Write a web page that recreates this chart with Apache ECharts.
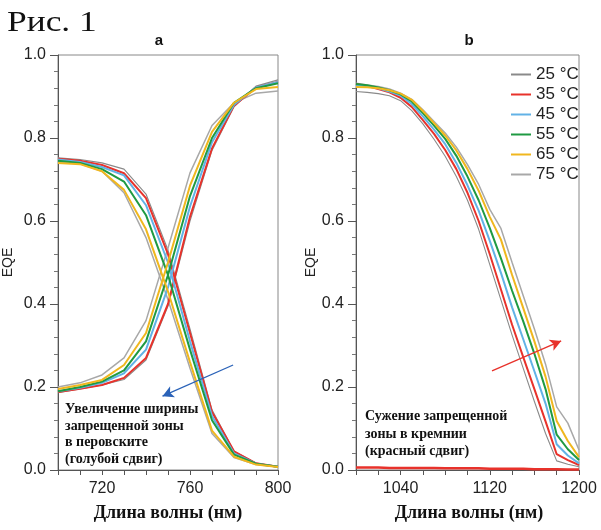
<!DOCTYPE html>
<html>
<head>
<meta charset="utf-8">
<script src="https://cdn.jsdelivr.net/npm/echarts@6/dist/echarts.min.js"></script>
<style>
html,body{margin:0;padding:0;background:#fff;}
#c{width:601px;height:530px;}
</style>
</head>
<body>
<div id="c"></div>
<script>
// ---- data ----
const temps = ['25 °C', '35 °C', '45 °C', '55 °C', '65 °C', '75 °C'];
const wlA = [700, 710, 720, 730, 740, 750, 760, 770, 780, 790, 800];
const fall25 = [0.752, 0.748, 0.740, 0.725, 0.665, 0.530, 0.340, 0.145, 0.045, 0.017, 0.008];
const fall35 = [0.750, 0.745, 0.735, 0.715, 0.655, 0.520, 0.330, 0.140, 0.045, 0.016, 0.008];
const fall45 = [0.748, 0.742, 0.730, 0.710, 0.638, 0.500, 0.310, 0.130, 0.040, 0.015, 0.008];
const fall55 = [0.745, 0.740, 0.725, 0.695, 0.614, 0.470, 0.290, 0.120, 0.037, 0.015, 0.008];
const fall65 = [0.740, 0.737, 0.720, 0.675, 0.580, 0.430, 0.260, 0.095, 0.032, 0.013, 0.007];
const fall75 = [0.742, 0.738, 0.720, 0.668, 0.560, 0.410, 0.245, 0.088, 0.030, 0.013, 0.007];
const rise25 = [0.186, 0.195, 0.205, 0.218, 0.265, 0.395, 0.600, 0.770, 0.875, 0.925, 0.940];
const rise35 = [0.188, 0.196, 0.205, 0.222, 0.270, 0.400, 0.610, 0.775, 0.878, 0.922, 0.935];
const rise45 = [0.190, 0.198, 0.210, 0.233, 0.290, 0.440, 0.635, 0.790, 0.880, 0.922, 0.935];
const rise55 = [0.190, 0.200, 0.213, 0.240, 0.310, 0.470, 0.660, 0.800, 0.885, 0.920, 0.932];
const rise65 = [0.195, 0.205, 0.217, 0.253, 0.330, 0.500, 0.685, 0.815, 0.885, 0.918, 0.923];
const rise75 = [0.200, 0.210, 0.229, 0.270, 0.360, 0.535, 0.716, 0.830, 0.885, 0.908, 0.913];

const wlB = [1000, 1010, 1020, 1030, 1040, 1050, 1060, 1070, 1080, 1090, 1100, 1110, 1120, 1130, 1140, 1150, 1160, 1170, 1180, 1190, 1200];
const si25 = [0.912, 0.910, 0.907, 0.902, 0.890, 0.866, 0.834, 0.797, 0.756, 0.707, 0.650, 0.580, 0.495, 0.410, 0.325, 0.245, 0.165, 0.088, 0.022, 0.014, 0.008];
const si35 = [0.930, 0.925, 0.918, 0.910, 0.897, 0.875, 0.843, 0.810, 0.771, 0.725, 0.668, 0.600, 0.520, 0.435, 0.350, 0.272, 0.195, 0.117, 0.038, 0.024, 0.012];
const si45 = [0.928, 0.925, 0.920, 0.912, 0.902, 0.882, 0.852, 0.820, 0.785, 0.740, 0.686, 0.625, 0.552, 0.475, 0.392, 0.315, 0.238, 0.160, 0.062, 0.035, 0.016];
const si55 = [0.930, 0.927, 0.922, 0.915, 0.905, 0.888, 0.860, 0.830, 0.798, 0.757, 0.707, 0.650, 0.583, 0.510, 0.432, 0.358, 0.280, 0.195, 0.085, 0.050, 0.024];
const si65 = [0.923, 0.922, 0.920, 0.915, 0.907, 0.892, 0.865, 0.836, 0.806, 0.770, 0.725, 0.673, 0.610, 0.555, 0.470, 0.390, 0.310, 0.225, 0.118, 0.070, 0.031];
const si75 = [0.932, 0.928, 0.924, 0.918, 0.908, 0.893, 0.868, 0.840, 0.812, 0.778, 0.736, 0.688, 0.628, 0.582, 0.500, 0.420, 0.340, 0.255, 0.152, 0.113, 0.048];
const tailB = [0.006, 0.006, 0.006, 0.005, 0.005, 0.005, 0.005, 0.005, 0.004, 0.004, 0.004, 0.004, 0.003, 0.003, 0.003, 0.003, 0.002, 0.002, 0.002, 0.001, 0.001];

const yTicks = [0, 0.2, 0.4, 0.6, 0.8, 1.0];
const xLabelsA = [720, 760, 800];
const xLabelsB = [1040, 1120, 1200];

// ---- styles ----
const colors = ['#8a8a8a', '#e8322b', '#62b2e6', '#1f9a42', '#f0b71e', '#a8a8a8'];
const widths = [1.1, 2, 2, 2, 2, 1.5];

const fallA = [fall25, fall35, fall45, fall55, fall65, fall75];
const riseA = [rise25, rise35, rise45, rise55, rise65, rise75];
const siB = [si25, si35, si45, si55, si65, si75];

function zip(xs, ys) { return xs.map((x, i) => [x, ys[i]]); }

const sans = 'Liberation Sans, Arial, sans-serif';
const serif = 'Liberation Serif, Times New Roman, serif';

function yAxis(gi, gap) {
  return {
    type: 'value', gridIndex: gi, min: 0, max: 1, interval: 0.2,
    name: 'EQE', nameLocation: 'middle', nameGap: gap,
    nameTextStyle: { fontFamily: sans, fontSize: 14, color: '#222' },
    axisLine: { show: true, lineStyle: { color: '#555', width: 1 } },
    axisTick: { show: true, inside: false, length: 8, lineStyle: { color: '#555' } },
    minorTick: { show: true, splitNumber: 5, length: 4, lineStyle: { color: '#777' } },
    axisLabel: { fontFamily: sans, fontSize: 16, color: '#222', margin: 12,
      formatter: v => yTicks.some(t => Math.abs(t - v) < 1e-6) ? v.toFixed(1) : '' },
    splitLine: { show: false }
  };
}
function xAxis(gi, min, max, interval, labels) {
  return {
    type: 'value', gridIndex: gi, min: min, max: max, interval: interval,
    axisLine: { show: true, onZero: false, lineStyle: { color: '#555', width: 1 } },
    axisTick: { show: true, inside: false, length: 5, lineStyle: { color: '#555' } },
    axisLabel: { fontFamily: sans, fontSize: 16, color: '#222', margin: 11,
      formatter: v => labels.indexOf(Math.round(v)) >= 0 ? String(Math.round(v)) : '' },
    splitLine: { show: false }
  };
}

const series = [];
for (let i = 0; i < 6; i++) {
  const base = { type: 'line', name: temps[i], symbol: 'none', showSymbol: false, smooth: false,
    lineStyle: { color: colors[i], width: widths[i] }, itemStyle: { color: colors[i] },
    emphasis: { disabled: true }, z: 2 + (i === 0 || i === 5 ? 0 : 1) };
  series.push(Object.assign({}, base, { xAxisIndex: 0, yAxisIndex: 0, data: zip(wlA, fallA[i]) }));
  series.push(Object.assign({}, base, { xAxisIndex: 0, yAxisIndex: 0, data: zip(wlA, riseA[i]) }));
  series.push(Object.assign({}, base, { xAxisIndex: 1, yAxisIndex: 1, data: zip(wlB, siB[i]) }));
}
series.push({ type: 'line', name: 'tail', symbol: 'none', xAxisIndex: 1, yAxisIndex: 1,
  data: zip(wlB, tailB), lineStyle: { color: '#e8322b', width: 2.5 }, itemStyle: { color: '#e8322b' }, z: 5 });

// annotation arrows (data coordinates)
series.push({ type: 'line', name: 'arrowA', xAxisIndex: 0, yAxisIndex: 0, data: [], symbol: 'none',
  markLine: { silent: true, symbol: ['none', 'arrow'], symbolSize: [9, 11], animation: false,
    lineStyle: { color: '#2a62b8', width: 1.3, type: 'solid' }, label: { show: false },
    data: [[{ coord: [779.6, 0.253] }, { coord: [747.5, 0.178] }]] } });
series.push({ type: 'line', name: 'arrowB', xAxisIndex: 1, yAxisIndex: 1, data: [], symbol: 'none',
  markLine: { silent: true, symbol: ['none', 'arrow'], symbolSize: [9, 11], animation: false,
    lineStyle: { color: '#e8322b', width: 1.3, type: 'solid' }, label: { show: false },
    data: [[{ coord: [1122, 0.239] }, { coord: [1184, 0.311] }]] } });

const chart = echarts.init(document.getElementById('c'), null, { renderer: 'canvas' });
chart.setOption({
  animation: false,
  backgroundColor: '#fff',
  grid: [
    { left: 57, top: 55, width: 221, height: 415, show: true, borderColor: '#888', borderWidth: 1, backgroundColor: 'transparent' },
    { left: 356, top: 55, width: 223, height: 415, show: true, borderColor: '#888', borderWidth: 1, backgroundColor: 'transparent' }
  ],
  xAxis: [xAxis(0, 700, 800, 10, xLabelsA), xAxis(1, 1000, 1200, 20, xLabelsB)],
  yAxis: [yAxis(0, 43), yAxis(1, 29)],
  legend: {
    data: temps, orient: 'vertical', left: 506, top: 61,
    icon: 'rect', itemWidth: 20, itemHeight: 2, itemGap: 3,
    textStyle: { fontFamily: sans, fontSize: 17, color: '#222', lineHeight: 17 },
    selectedMode: false
  },
  graphic: [
    { type: 'text', x: 7, y: 8, scaleX: 1.18, style: { text: 'Рис. 1', font: '30px ' + serif, fill: '#111' } },
    { type: 'text', x: 159, y: 41, style: { text: 'a', font: 'bold 15px ' + sans, fill: '#111', align: 'center', verticalAlign: 'middle' } },
    { type: 'text', x: 469, y: 41, style: { text: 'b', font: 'bold 15px ' + sans, fill: '#111', align: 'center', verticalAlign: 'middle' } },
    { type: 'text', x: 168, y: 513, style: { text: 'Длина волны (нм)', font: 'bold 18px ' + serif, fill: '#111', align: 'center', verticalAlign: 'middle' } },
    { type: 'text', x: 469, y: 513, style: { text: 'Длина волны (нм)', font: 'bold 18px ' + serif, fill: '#111', align: 'center', verticalAlign: 'middle' } },
    { type: 'text', x: 65, y: 401, style: { text: 'Увеличение ширины\nзапрещенной зоны\nв перовските\n(голубой сдвиг)', font: 'bold 14px ' + serif, lineHeight: 16.7, fill: '#111' } },
    { type: 'text', x: 365, y: 408, style: { text: 'Сужение запрещенной\nзоны в кремнии\n(красный сдвиг)', font: 'bold 14px ' + serif, lineHeight: 17.5, fill: '#111' } }
  ],
  series: series
});
</script>
</body>
</html>
